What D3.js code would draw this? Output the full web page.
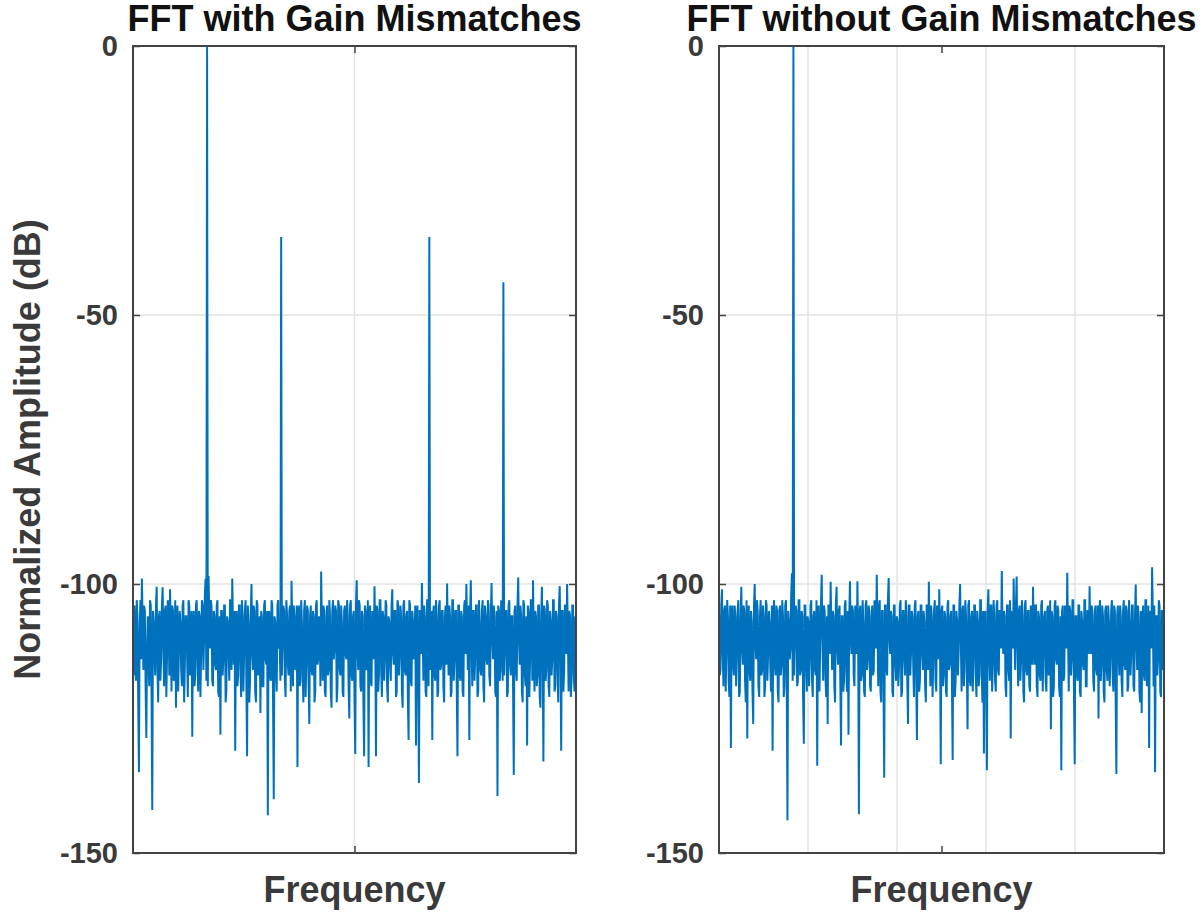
<!DOCTYPE html>
<html>
<head>
<meta charset="utf-8">
<script src="https://cdn.jsdelivr.net/npm/d3@7"></script>
<style>
  html, body { margin: 0; padding: 0; background: #fff; }
  svg { display: block; font-family: "Liberation Sans", Arial, Helvetica, sans-serif; }
</style>
</head>
<body>
<svg id="chart" width="1204" height="913"></svg>
<script>
// Spectrum magnitudes (dB) per FFT bin, bins spread evenly over normalised frequency 0..1
const specWithMismatch = [
  -110, -117, -104, -112, -118, -103, -106, -121, -135, -108, -103, -114, -99, -107, -116, -104, -105, -119, -128.6, -112,
  -106, -115, -119, -103, -104, -120, -142, -105, -107, -113, -117, -104, -100.5, -116, -122, -106, -105, -118, -114, -104,
  -100.6, -112, -119, -105, -104, -121, -113, -103, -106, -117, -101, -109, -120, -104, -105, -118, -116, -103, -123, -107,
  -104, -120, -112, -105, -107, -116, -119, -104, -103, -122, -115, -106, -106, -113, -121, -103, -104, -117, -111, -105,
  -128.4, -108, -105, -119, -117, -104, -103, -114, -120, -105, -106, -121, -113, -103, -104, -116, -110, -102, -99, -118,
  0, -119, -98.5, -106, -112, -103, -104, -118, -119, -105, -106, -115, -116, -104, -103, -120, -121, -106, -128, -105,
  -105, -117, -114, -104, -104, -122, -120, -106, -107, -113, -118, -103, -103, -116, -99, -108, -115, -105, -131, -106,
  -105, -119, -117, -104, -104, -115, -121, -103, -106, -120, -113, -105, -103, -118, -132, -104, -107, -122, -118, -105,
  -100, -113, -116, -104, -105, -120, -122, -103, -104, -117, -112, -106, -124, -105, -106, -119, -119, -104, -103, -114,
  -115, -105, -143, -106, -105, -117, -118, -103, -104, -121, -140, -106, -107, -116, -120, -104, -103, -112, -111, -118,
  -35.5, -117, -110, -104, -105, -118, -121, -103, -106, -115, -117, -105, -104, -120, -99.4, -107, -119, -104, -106, -116,
  -113, -104, -134, -106, -104, -119, -118, -103, -107, -117, -122, -105, -103, -121, -115, -104, -105, -118, -126, -106,
  -104, -116, -117, -105, -106, -122, -120, -104, -103, -115, -114, -106, -107, -119, -97.7, -108, -118, -104, -105, -120,
  -121, -106, -104, -117, -116, -103, -106, -120, -123, -105, -103, -114, -112, -104, -105, -122, -119, -103, -104, -116,
  -117, -104, -107, -120, -121, -105, -104, -113, -114, -103, -106, -119, -125, -104, -103, -117, -118, -106, -105, -121,
  -131.6, -104, -99.3, -112, -116, -103, -104, -119, -120, -105, -106, -122, -132, -104, -105, -116, -113, -103, -134, -106,
  -104, -118, -119, -105, -107, -114, -100.4, -110, -132, -104, -105, -120, -117, -103, -103, -116, -121, -105, -106, -118,
  -114, -103, -104, -119, -122, -106, -107, -115, -118, -104, -101, -113, -115, -105, -105, -121, -120, -103, -104, -117,
  -113, -104, -106, -120, -123, -104, -103, -116, -117, -106, -105, -121, -129, -103, -104, -118, -119, -105, -107, -114,
  -112, -104, -130, -106, -104, -118, -137, -105, -105, -113, -99.8, -109, -118, -104, -106, -120, -121, -103, -103, -119,
  -35.5, -116, -111, -105, -129, -106, -104, -117, -118, -103, -106, -121, -120, -104, -103, -116, -115, -105, -105, -119,
  -122, -106, -104, -115, -99.9, -110, -117, -104, -106, -121, -120, -103, -103, -118, -114, -105, -105, -119, -132, -104,
  -104, -117, -118, -105, -106, -120, -121, -104, -103, -113, -100, -108, -116, -104, -129, -106, -99.3, -111, -119, -105,
  -105, -118, -113, -104, -104, -121, -120, -103, -107, -116, -117, -105, -103, -119, -122, -104, -106, -114, -115, -103,
  -104, -117, -119, -106, -99.8, -110, -114, -104, -106, -120, -121, -105, -139.4, -104, -105, -118, -116, -103, -104, -118,
  -43.9, -117, -112, -105, -105, -121, -120, -104, -103, -115, -117, -106, -106, -119, -135.5, -105, -104, -116, -118, -104,
  -98.8, -110, -115, -104, -106, -120, -122, -103, -104, -117, -119, -106, -130, -104, -105, -121, -114, -103, -103, -118,
  -99.3, -112, -120, -105, -106, -119, -117, -104, -104, -121, -123, -106, -100.5, -113, -133, -104, -105, -118, -116, -103,
  -104, -119, -121, -105, -107, -117, -114, -103, -103, -120, -119, -105, -106, -116, -122, -104, -100.4, -112, -131, -105,
  -105, -120, -116, -104, -104, -113, -100, -109, -120, -105, -106, -121, -118, -104, -104, -117, -120, -106, -108
];

const specWithoutMismatch = [
  -105, -117, -116, -104, -101, -113, -119, -105, -104, -120, -112, -103, -106, -118, -121, -104, -130.5, -106, -104, -115,
  -117, -104, -106, -119, -113, -105, -103, -121, -120, -106, -100.5, -112, -115, -104, -105, -118, -122, -103, -128.7, -106,
  -104, -116, -118, -105, -107, -120, -126, -104, -100, -111, -114, -103, -105, -119, -121, -106, -103, -117, -116, -104,
  -106, -121, -119, -103, -104, -118, -113, -105, -107, -116, -120, -104, -131, -106, -103, -115, -117, -104, -105, -120,
  -122, -105, -104, -117, -115, -103, -106, -121, -119, -104, -103, -118, -143.9, -105, -107, -114, -112, -102, -98, -118,
  0, -117, -110, -104, -105, -119, -118, -103, -103, -117, -116, -105, -106, -121, -129.7, -104, -104, -115, -120, -106,
  -107, -119, -114, -104, -103, -118, -121, -106, -105, -116, -117, -103, -133.8, -105, -104, -120, -112, -104, -98.3, -110,
  -118, -104, -105, -117, -121, -106, -126, -104, -104, -113, -99.6, -108, -116, -105, -106, -119, -122, -104, -100.5, -112,
  -115, -105, -104, -118, -130, -106, -106, -120, -118, -104, -103, -116, -120, -105, -128, -106, -99.5, -110, -113, -104,
  -105, -117, -119, -104, -106, -113, -99.5, -110, -142.8, -105, -104, -118, -117, -103, -107, -120, -121, -104, -103, -116,
  -114, -104, -105, -119, -120, -106, -104, -117, -116, -103, -106, -112, -98.3, -109, -119, -104, -103, -120, -122, -105,
  -105, -118, -136, -104, -104, -116, -117, -103, -98.9, -110, -113, -105, -106, -120, -121, -104, -104, -115, -118, -106,
  -107, -119, -115, -104, -103, -121, -120, -105, -105, -114, -117, -103, -106, -118, -126, -104, -104, -117, -113, -105,
  -106, -115, -121, -104, -103, -117, -129, -106, -105, -120, -118, -104, -104, -113, -116, -105, -107, -119, -122, -104,
  -104, -116, -99.6, -110, -119, -104, -106, -121, -114, -105, -103, -118, -120, -104, -105, -114, -101, -112, -133.5, -105,
  -104, -119, -117, -105, -106, -120, -121, -104, -103, -116, -115, -106, -105, -118, -132.7, -104, -104, -121, -118, -105,
  -107, -117, -113, -104, -100, -111, -120, -105, -104, -119, -116, -103, -106, -115, -127, -104, -103, -118, -119, -106,
  -105, -120, -114, -104, -104, -117, -121, -105, -107, -119, -117, -103, -103, -116, -122, -105, -131.5, -106, -105, -118,
  -134.6, -105, -101, -113, -118, -104, -104, -120, -115, -103, -106, -118, -120, -104, -103, -116, -117, -105, -105, -112,
  -97.6, -108, -113, -105, -106, -119, -121, -104, -104, -116, -118, -103, -128.7, -106, -105, -112, -99, -109, -116, -104,
  -98.6, -111, -119, -105, -104, -118, -114, -103, -106, -120, -122, -104, -103, -116, -117, -105, -105, -119, -120, -104,
  -107, -115, -100.5, -110, -115, -104, -104, -119, -121, -105, -106, -117, -118, -104, -103, -120, -113, -106, -105, -118,
  -120, -105, -104, -117, -116, -103, -127, -105, -106, -121, -119, -104, -103, -114, -115, -104, -105, -119, -121, -106,
  -134.6, -105, -104, -118, -117, -104, -106, -112, -97.9, -109, -120, -104, -105, -117, -114, -103, -103, -120, -133.5, -106,
  -106, -117, -118, -104, -104, -120, -121, -105, -107, -115, -116, -103, -103, -119, -119, -105, -105, -113, -100.4, -110,
  -113, -104, -106, -118, -120, -105, -104, -116, -117, -104, -125, -106, -103, -118, -115, -104, -106, -120, -122, -105,
  -104, -116, -118, -104, -107, -119, -114, -105, -103, -117, -120, -104, -105, -121, -135.3, -106, -104, -113, -117, -104,
  -106, -118, -121, -105, -103, -115, -116, -104, -105, -120, -119, -103, -107, -117, -113, -104, -104, -119, -120, -106,
  -100.1, -111, -116, -104, -106, -120, -122, -105, -124, -106, -104, -117, -118, -103, -103, -119, -115, -104, -130.5, -106,
  -105, -112, -96.9, -106, -119, -104, -135, -106, -106, -117, -114, -103, -104, -120, -121, -105, -105, -116, -110
];

const panelTitles = ["FFT with Gain Mismatches", "FFT without Gain Mismatches"];
const yTickValues = [-150, -100, -50, 0];
const xTickValues = [0.5];
const xGridLeft = [0.5];
const xGridRight = [0.2, 0.4, 0.6, 0.8];
const yGridValues = [-100, -50];

const svg = d3.select("#chart");
const lineColor = "#0072BD";
const axisColor = "#434343";
const textColor = "#3a3a3a";

const panels = [
  { data: specWithMismatch, title: panelTitles[0], left: 133, right: 576, grid: xGridLeft, ylabel: true },
  { data: specWithoutMismatch, title: panelTitles[1], left: 719, right: 1164, grid: xGridRight, ylabel: false }
];
const plotTop = 46, plotBottom = 853;

panels.forEach((p, pi) => {
  const n = p.data.length;
  const x = d3.scaleLinear().domain([0, 1]).range([p.left, p.right]);
  const y = d3.scaleLinear().domain([-150, 0]).range([plotBottom, plotTop]);
  const w = p.right - p.left, h = plotBottom - plotTop;

  const g = svg.append("g");

  // grid
  g.append("g").selectAll("line").data(p.grid).join("line")
    .attr("x1", d => x(d)).attr("x2", d => x(d))
    .attr("y1", plotTop).attr("y2", plotBottom)
    .attr("stroke", "#e3e3e3").attr("stroke-width", 1.5);
  g.append("g").selectAll("line").data(yGridValues).join("line")
    .attr("x1", p.left).attr("x2", p.right)
    .attr("y1", d => y(d)).attr("y2", d => y(d))
    .attr("stroke", "#e3e3e3").attr("stroke-width", 1.5);

  // spectrum trace
  const clipId = "clip" + pi;
  svg.append("clipPath").attr("id", clipId).append("rect")
    .attr("x", p.left).attr("y", plotTop - 1).attr("width", w).attr("height", h + 1);
  const line = d3.line()
    .x((d, i) => x(i / (n - 1)))
    .y(d => y(d));
  g.append("path")
    .datum(p.data)
    .attr("clip-path", `url(#${clipId})`)
    .attr("fill", "none")
    .attr("stroke", lineColor)
    .attr("stroke-width", 2)
    .attr("stroke-linejoin", "miter")
    .attr("d", line);

  // axes (ticks pointing inward on all four sides)
  const styleAxis = sel => {
    sel.select(".domain").remove();
    sel.selectAll(".tick line").attr("stroke", axisColor).attr("stroke-width", 1.5);
    sel.selectAll(".tick text")
      .attr("fill", textColor)
      .attr("font-size", "29px")
      .attr("font-weight", "bold");
  };
  g.append("g").attr("transform", `translate(${p.left},0)`)
    .call(d3.axisLeft(y).tickValues(yTickValues).tickSizeInner(-7).tickSizeOuter(0).tickPadding(15).tickFormat(d => String(d)))
    .call(styleAxis);
  g.append("g").attr("transform", `translate(${p.right},0)`)
    .call(d3.axisRight(y).tickValues(yTickValues).tickSizeInner(-7).tickSizeOuter(0).tickFormat(""))
    .call(styleAxis);
  g.append("g").attr("transform", `translate(0,${plotBottom})`)
    .call(d3.axisBottom(x).tickValues(xTickValues).tickSizeInner(-7).tickSizeOuter(0).tickFormat(""))
    .call(styleAxis);
  g.append("g").attr("transform", `translate(0,${plotTop})`)
    .call(d3.axisTop(x).tickValues(xTickValues).tickSizeInner(-7).tickSizeOuter(0).tickFormat(""))
    .call(styleAxis);

  // box
  g.append("rect")
    .attr("x", p.left).attr("y", plotTop).attr("width", w).attr("height", h)
    .attr("fill", "none").attr("stroke", axisColor).attr("stroke-width", 2);

  // title
  g.append("text")
    .attr("x", (p.left + p.right) / 2).attr("y", 31)
    .attr("text-anchor", "middle")
    .attr("font-size", "36px").attr("font-weight", "bold")
    .attr("fill", "#111")
    .text(p.title);

  // x label
  g.append("text")
    .attr("x", (p.left + p.right) / 2).attr("y", 902)
    .attr("text-anchor", "middle")
    .attr("font-size", "36px").attr("font-weight", "bold")
    .attr("fill", textColor)
    .text("Frequency");

  if (p.ylabel) {
    g.append("text")
      .attr("transform", `translate(40,${(plotTop + plotBottom) / 2}) rotate(-90)`)
      .attr("text-anchor", "middle")
      .attr("font-size", "36px").attr("font-weight", "bold")
      .attr("fill", textColor)
      .text("Normalized Amplitude (dB)");
  }
});
</script>
</body>
</html>
